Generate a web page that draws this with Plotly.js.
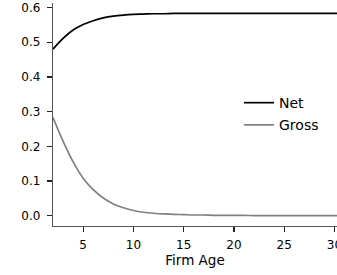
<!DOCTYPE html>
<html>
<head>
<meta charset="utf-8">
<script src="https://cdn.plot.ly/plotly-3.0.1.min.js"></script>
<style>html,body{margin:0;padding:0;background:#fff;}#chart{width:337px;height:275px;}</style>
</head>
<body>
<div id="chart"></div>
<script>
const firmAge = [2,3,4,5,6,7,8,9,10,11,12,13,14,15,16,17,18,19,20,21,22,23,24,25,26,27,28,29,30,31];
const netValues = [0.480,0.511,0.535,0.551,0.562,0.570,0.575,0.578,0.580,0.581,0.582,0.582,0.583,0.583,0.583,0.583,0.583,0.583,0.583,0.583,0.583,0.583,0.583,0.583,0.583,0.583,0.583,0.583,0.583,0.583];
const grossValues = [0.283,0.215,0.155,0.108,0.075,0.051,0.034,0.023,0.015,0.010,0.007,0.005,0.004,0.003,0.002,0.002,0.001,0.001,0.001,0.001,0.000,0.000,0.000,0.000,0.000,0.000,0.000,0.000,0.000,0.000];
const seriesNames = ["Net", "Gross"];
const xTicks = [5,10,15,20,25,30];
const yTicks = [0.0,0.1,0.2,0.3,0.4,0.5,0.6];

const tickFont = {family: "DejaVu Sans", size: 12, color: "#000"};
const traces = [
  {x: firmAge, y: netValues, name: seriesNames[0], legendgroup: "a", type: "scatter", mode: "lines",
   line: {color: "#000000", width: 1.7, shape: "spline", smoothing: 1}},
  {x: firmAge, y: grossValues, name: seriesNames[1], legendgroup: "b", type: "scatter", mode: "lines",
   line: {color: "#808080", width: 1.7, shape: "spline", smoothing: 1}}
];
const layout = {
  width: 337, height: 275,
  margin: {l: 53, r: 0, t: 3, b: 49, pad: 0},
  paper_bgcolor: "#fff", plot_bgcolor: "#fff",
  font: tickFont,
  showlegend: true,
  legend: {x: 0.655, y: 0.623, xanchor: "left", yanchor: "top", bgcolor: "rgba(0,0,0,0)",
           font: {family: "DejaVu Sans", size: 14, color: "#000"}, tracegroupgap: 1},
  xaxis: {
    range: [2, 30.25], tickvals: xTicks, ticktext: xTicks.map(String),
    showgrid: false, zeroline: false, showline: true, linecolor: "#555", linewidth: 1.2,
    ticks: "outside", ticklen: 5, tickwidth: 1.2, tickcolor: "#222",
    ticklabeloverflow: "allow", ticklabelstandoff: 2,
    tickfont: tickFont,
    title: {text: "Firm Age", font: {family: "DejaVu Sans", size: 13.5, color: "#000"}, standoff: 3}
  },
  yaxis: {
    range: [-0.0297, 0.613], tickvals: yTicks, ticktext: yTicks.map(v => v.toFixed(1)),
    showgrid: false, zeroline: false, showline: true, linecolor: "#555", linewidth: 1.2,
    ticks: "outside", ticklen: 5, tickwidth: 1.2, tickcolor: "#222",
    ticklabelstandoff: 4,
    tickfont: tickFont
  }
};
Plotly.newPlot("chart", traces, layout, {displayModeBar: false, staticPlot: true});
</script>
</body>
</html>
